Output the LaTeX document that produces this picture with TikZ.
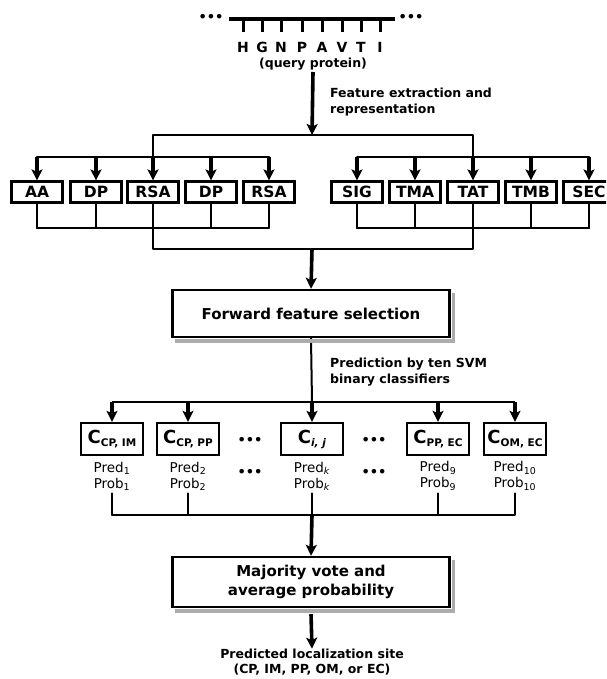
\documentclass[tikz,border=0pt]{standalone}
\usepackage{fontspec}
\setmainfont{DejaVu Sans}
\usepackage{tikz}
\usetikzlibrary{arrows.meta}

\newcommand{\clsname}[1]{{\fontsize{18}{18}\selectfont C}\raisebox{-3pt}{\fontsize{10.5}{10.5}\selectfont #1}}

\begin{document}
\begin{tikzpicture}[x=1pt,y=-1pt,
    every node/.style={inner sep=0pt},
    wire/.style={line width=2pt,line cap=round,line join=round},
    bigarrow/.style={line width=3.6pt,-{Stealth[length=11pt,width=11pt,inset=2.5pt]}},
    featbox/.style={draw,line width=2.2pt,minimum width=51pt,minimum height=21pt,font=\bfseries\fontsize{15.5}{15.5}\selectfont},
    clsbox/.style={draw,line width=2.4pt,fill=white,minimum width=62pt,minimum height=32pt,font=\bfseries},
    stagebox/.style={draw,line width=2.4pt,fill=white,minimum width=277pt,align=center,
      font=\bfseries\fontsize{15}{19}\selectfont},
    boxshadow/.style={fill=gray!65},
    sidelabel/.style={anchor=west,align=left,font=\bfseries\fontsize{12.5}{16}\selectfont},
    predtxt/.style={align=center,font=\fontsize{13.5}{16}\selectfont},
    dots/.style={font=\bfseries\fontsize{13}{13}\selectfont}]
  \useasboundingbox (0,0) rectangle (606,679);
  \clip (0,0) rectangle (606,679);
  % query sequence
  \coordinate (seqL) at (229,19);
  \coordinate (seqR) at (395,19);
  \draw[line width=4pt] (seqL)--(seqR);
  \node[dots] (dotL) at (211,18) {•••};
  \node[dots] (dotR) at (411,18) {•••};
  \foreach \x/\res in {243/H,262/G,281/N,302/P,322/A,342/V,361/T,380/I} {
    \draw[line width=3pt] (\x,19)--(\x,32);
    \node[font=\bfseries\fontsize{14}{14}\selectfont] (res\res) at (\x,47) {\res};
  }
  \node[font=\bfseries\fontsize{12.5}{12.5}\selectfont] (query) at (313,64) {(query protein)};
  \node[sidelabel] (extract) at (330,102) {Feature extraction and\\representation};
  % feature groups
  \coordinate (featTop) at (312,135);
  \coordinate (featIn) at (0,157);
  \coordinate (featOut) at (0,228);
  \coordinate (featJoin) at (312,249);
  \foreach \name/\x/\lab in {fa/37/AA,fb/96/DP,fc/153/RSA,fd/211/DP,fe/269/RSA,
                             fg/357/SIG,fh/415/TMA,fi/473/TAT,fj/531/TMB,fk/589/SEC} {
    \node[featbox] (\name) at (\x,192) {\lab};
    \draw[bigarrow] (\name |- featIn) -- (\name.north);
    \draw[wire] (\name.south) -- (\name |- featOut);
  }
  \draw[wire] (fa |- featIn) -- (fe |- featIn);
  \draw[wire] (fg |- featIn) -- (fk |- featIn);
  \draw[wire] (fa |- featOut) -- (fe |- featOut);
  \draw[wire] (fg |- featOut) -- (fk |- featOut);
  \draw[wire] (fc |- featIn) -- (fc |- featTop) -- (fi |- featTop) -- (fi |- featIn);
  \draw[wire] (fc |- featOut) -- (fc |- featJoin) -- (fi |- featJoin) -- (fi |- featOut);
  \draw[bigarrow] (query) ++(0,8) -- (featTop);
  \node[stagebox,minimum height=47pt] (ffs) at (311,313.5) {Forward feature selection};
  \draw[bigarrow] (featJoin) -- (ffs.north);
  \node[sidelabel] (svmlabel) at (330,372) {Prediction by ten SVM\\binary classifiers};
  % binary classifiers
  \coordinate (clsBus) at (0,402);
  \coordinate (clsOut) at (0,515);
  \foreach \name/\x/\lab/\pr in {ca/112/{CP, IM}/{Pred\textsubscript{1}\\Prob\textsubscript{1}},
      cb/188/{CP, PP}/{Pred\textsubscript{2}\\Prob\textsubscript{2}},
      cc/312/{\textit{i, j}}/{Pred\textsubscript{\textit{k}}\\Prob\textsubscript{\textit{k}}},
      cd/438/{PP, EC}/{Pred\textsubscript{9}\\Prob\textsubscript{9}},
      ce/515/{OM, EC}/{Pred\textsubscript{10}\\Prob\textsubscript{10}}} {
    \node[clsbox] (\name) at (\x,439) {\clsname{\lab}};
    \node[predtxt] (\name p) at (\x,476) {\pr};
    \draw[bigarrow] (\name |- clsBus) -- (\name.north);
    \draw[wire] (\name p.south) ++(0,3) -- (\name |- clsOut);
  }
  \node[dots] (dotA) at (250,441) {•••};
  \node[dots] (dotB) at (250,473) {•••};
  \node[dots] (dotC) at (374,441) {•••};
  \node[dots] (dotD) at (374,473) {•••};
  \draw[wire] (ffs.south) -- (cc |- clsBus);
  \draw[line width=2.8pt] (ca |- clsBus) -- (ce |- clsBus);
  \draw[line width=2.6pt] (ca |- clsOut) -- (ce |- clsOut);
  \node[stagebox,minimum height=50pt] (vote) at (311,582) {Majority vote and\\average probability};
  \draw[bigarrow] (cc |- clsOut) -- (vote.north);
  \node[align=center,font=\bfseries\fontsize{12.5}{15}\selectfont] (site) at (312,662) {Predicted localization site\\(CP, IM, PP, OM, or EC)};
  \draw[bigarrow] (vote.south) ++(0,6) -- (site.north);
  \foreach \name in {ffs,vote} {
    \fill[boxshadow] ([shift={(1.2,4)}]\name.north east) rectangle ([shift={(4.6,4.6)}]\name.south east);
    \fill[boxshadow] ([shift={(4,1.2)}]\name.south west) rectangle ([shift={(4.6,4.6)}]\name.south east);
  }
\end{tikzpicture}
\end{document}
